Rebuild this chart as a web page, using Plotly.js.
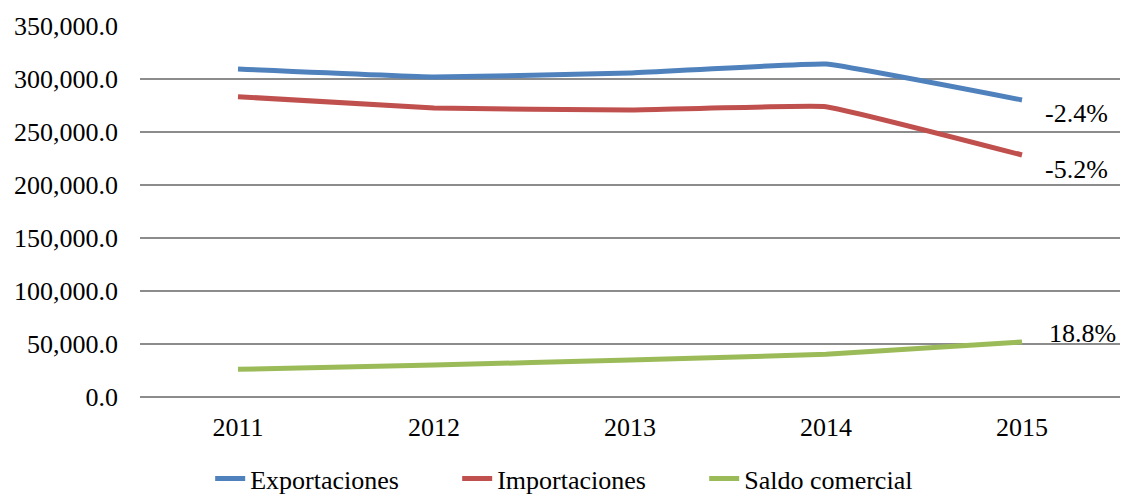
<!DOCTYPE html>
<html>
<head>
<meta charset="utf-8">
<script src="https://cdn.plot.ly/plotly-3.0.1.min.js"></script>
<style>html,body{margin:0;padding:0;background:#fff;}#chart{width:1121px;height:495px;}</style>
</head>
<body>
<div id="chart"></div>
<script>
const years = ["2011", "2012", "2013", "2014", "2015"];
const exportaciones = [309400, 301900, 305700, 314100, 280200];
const importaciones = [283300, 272600, 270800, 273900, 228300];
const saldoComercial = [26100, 30200, 34900, 40300, 52000];
const seriesNames = ["Exportaciones", "Importaciones", "Saldo comercial"];
const endLabels = ["-2.4%", "-5.2%", "18.8%"];
const yTicks = [0, 50000, 100000, 150000, 200000, 250000, 300000, 350000];

const colors = ["#4f81bd", "#c0504d", "#9bbb59"];
const seriesValues = [exportaciones, importaciones, saldoComercial];
const font = "Liberation Serif, Times New Roman, serif";

const traces = seriesValues.map((vals, i) => ({
  x: years, y: vals, name: seriesNames[i], type: "scatter", mode: "lines",
  line: {color: colors[i], width: 5, shape: "spline", smoothing: 0.25},
  hoverinfo: "skip"
}));

const labelShift = [[21, -14], [21, -14], [25, 8]];
const lastIdx = years.length - 1;
const annotations = endLabels.map((t, i) => ({
  x: lastIdx, y: seriesValues[i][lastIdx],
  xref: "x", yref: "y", text: t, showarrow: false,
  xanchor: "left", yanchor: "middle",
  xshift: labelShift[i][0], yshift: labelShift[i][1],
  font: {family: font, size: 26, color: "#000"}
}));

const layout = {
  width: 1121, height: 495,
  margin: {l: 140, r: 1, t: 26, b: 98},
  paper_bgcolor: "#fff", plot_bgcolor: "#fff",
  font: {family: font, size: 26, color: "#000"},
  showlegend: true,
  legend: {
    orientation: "h", xref: "container", yref: "container",
    x: 0.518, xanchor: "center", y: 0.033, yanchor: "middle",
    entrywidth: 202, entrywidthmode: "pixels",
    font: {family: font, size: 26, color: "#000"},
    traceorder: "normal"
  },
  xaxis: {
    type: "category", range: [-0.5, 4.5], showgrid: false, zeroline: false,
    showline: false, ticks: "", ticklabelstandoff: 12,
    tickfont: {family: font, size: 26, color: "#000"},
    fixedrange: true
  },
  yaxis: {
    range: [0, 350000], tickvals: yTicks, tickformat: ",.1f",
    showgrid: true, gridcolor: "#8c8c8c", gridwidth: 1.5,
    zeroline: true, zerolinecolor: "#8c8c8c", zerolinewidth: 1.5,
    showline: false, ticks: "", ticklen: 0, ticklabelstandoff: 21,
    tickfont: {family: font, size: 26, color: "#000"},
    fixedrange: true
  },
  annotations: annotations
};

Plotly.newPlot("chart", traces, layout, {displayModeBar: false, staticPlot: true});
</script>
</body>
</html>
